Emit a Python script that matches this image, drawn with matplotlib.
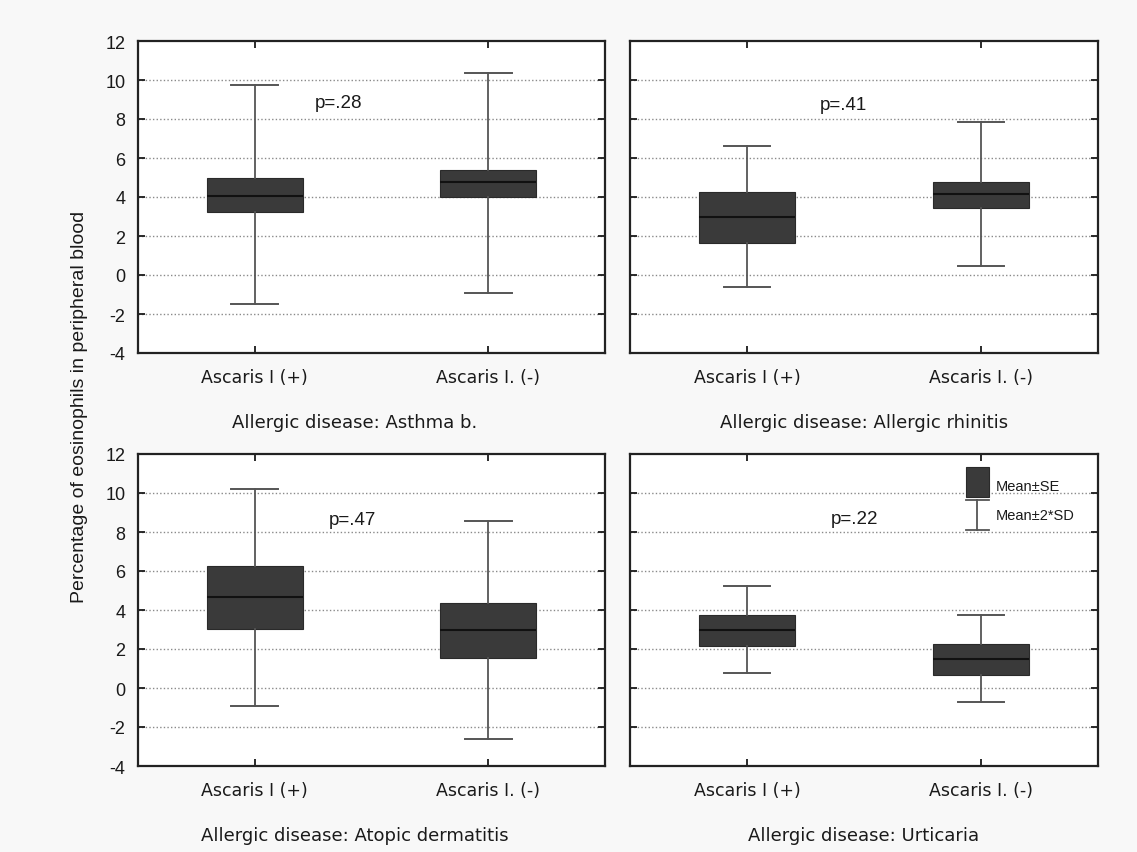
import numpy as np
import matplotlib
matplotlib.use("Agg")
import matplotlib.pyplot as plt
from matplotlib.patches import Rectangle

plt.rcParams["axes.unicode_minus"] = False

# Data (mean, mean +/- SE, mean +/- 2*SD)
groups = ["Ascaris I (+)", "Ascaris I. (-)"]
panel_titles = ["Allergic disease: Asthma b.", "Allergic disease: Allergic rhinitis",
                "Allergic disease: Atopic dermatitis", "Allergic disease: Urticaria"]
p_values = ["p=.28", "p=.41", "p=.47", "p=.22"]

means = [[4.07, 4.75], [2.95, 4.15], [4.65, 2.96], [2.96, 1.47]]
se_low = [[3.23, 4.02], [1.64, 3.42], [3.01, 1.53], [2.17, 0.66]]
se_high = [[4.97, 5.37], [4.27, 4.77], [6.27, 4.38], [3.76, 2.28]]
sd_low = [[-1.50, -0.92], [-0.63, 0.46], [-0.91, -2.60], [0.78, -0.73]]
sd_high = [[9.74, 10.34], [6.63, 7.83], [10.21, 8.54], [5.24, 3.76]]

# p-value text placement (data coords)
p_pos = [(0.36, 8.87), (0.41, 8.72), (0.42, 8.62), (0.46, 8.67)]

box_color = "#3a3a3a"
line_color = "#555555"
text_color = "#1a1a1a"

fig = plt.figure(figsize=(11.37, 8.53), dpi=100)
fig.patch.set_facecolor("#f8f8f8")

W, H = 1137, 853
rects = [(138, 42, 467, 312), (630, 42, 468, 312),
         (138, 455, 467, 312), (630, 455, 468, 312)]

axes = []
for i, (x0, y0, w, h) in enumerate(rects):
    ax = fig.add_axes([x0 / W, 1 - (y0 + h) / H, w / W, h / H])
    ax.set_facecolor("white")
    stats = []
    for j in range(2):
        stats.append(dict(med=means[i][j], q1=se_low[i][j], q3=se_high[i][j],
                          whislo=sd_low[i][j], whishi=sd_high[i][j], fliers=[]))
    ax.bxp(stats, positions=[0, 1], widths=0.41, capwidths=0.2, patch_artist=True,
           showfliers=False,
           boxprops=dict(facecolor=box_color, edgecolor="#2a2a2a", linewidth=0.8),
           medianprops=dict(color="#111111", linewidth=1.5),
           whiskerprops=dict(color=line_color, linewidth=1.3),
           capprops=dict(color=line_color, linewidth=1.4))
    ax.set_xlim(-0.5, 1.5)
    ax.set_ylim(-4, 12)
    ax.set_yticks(np.arange(-4, 13, 2))
    ax.set_xticks([0, 1])
    ax.set_xticklabels(groups, fontsize=12.5, family="DejaVu Sans", color=text_color)
    for y in range(-2, 11, 2):
        ax.axhline(y, color="#8a8a8a", linewidth=1.0, linestyle=(0, (1, 1.6)), zorder=0)
    ax.tick_params(direction="in", top=True, right=True, length=5, width=1.3,
                   colors=text_color)
    ax.tick_params(axis="x", pad=11)
    ax.tick_params(axis="y", pad=9)
    if i % 2 == 0:
        for lbl in ax.get_yticklabels():
            lbl.set_fontsize(13)
            lbl.set_family("Liberation Sans")
    else:
        ax.set_yticklabels([])
    for s in ax.spines.values():
        s.set_linewidth(1.6)
        s.set_color("#222222")
    ax.text(p_pos[i][0], p_pos[i][1], p_values[i], fontsize=13.5, family="Liberation Sans",
            ha="center", va="center", color=text_color)
    axes.append(ax)

# panel subtitles
for i, (x0, y0, w, h) in enumerate(rects):
    xc = 355 if i % 2 == 0 else 864
    yc = y0 + h + 69
    fig.text(xc / W, 1 - yc / H, panel_titles[i], fontsize=13, family="DejaVu Sans",
             ha="center", va="center", color=text_color)

fig.text(80 / W, 1 - 407 / H, "Percentage of eosinophils in peripheral blood",
         rotation=90, fontsize=14, family="Liberation Sans", ha="center", va="center",
         color=text_color)

# legend in last panel
ax = axes[3]
tr = ax.transAxes
ax.add_patch(Rectangle((0.718, 0.8625), 0.049, 0.0955, transform=tr,
                       facecolor=box_color, edgecolor="#2a2a2a", linewidth=0.8))
ax.plot([0.718, 0.767], [0.851, 0.851], transform=tr, color=line_color, lw=1.3)
ax.plot([0.7425, 0.7425], [0.851, 0.757], transform=tr, color=line_color, lw=1.3)
ax.plot([0.718, 0.767], [0.757, 0.757], transform=tr, color=line_color, lw=1.3)
ax.text(0.782, 0.899, "Mean±SE", transform=tr, fontsize=10.5, family="Liberation Sans",
        va="center", ha="left", color=text_color)
ax.text(0.782, 0.803, "Mean±2*SD", transform=tr, fontsize=10.5, family="Liberation Sans",
        va="center", ha="left", color=text_color)

fig.savefig("out.png", dpi=100, facecolor=fig.get_facecolor())
